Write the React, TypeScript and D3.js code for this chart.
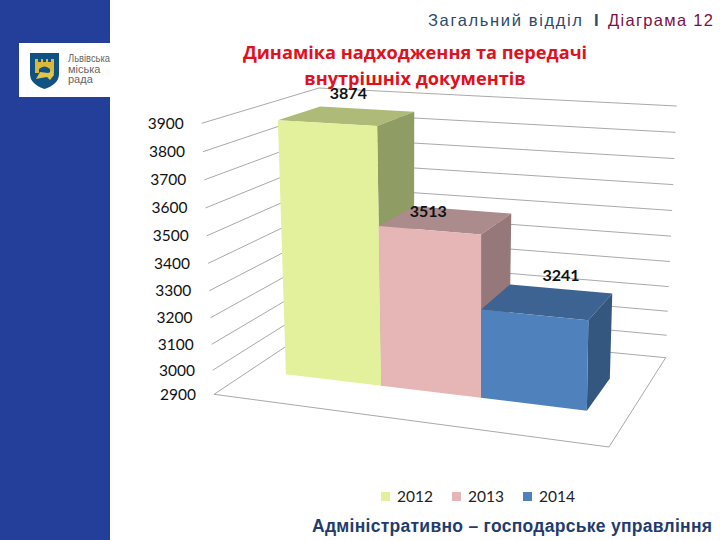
import React, { useEffect, useRef } from 'react';
import * as d3 from 'd3';

const years = ['2012', '2013', '2014'];
const docs = [3874, 3513, 3241];
const ticks = [2900, 3000, 3100, 3200, 3300, 3400, 3500, 3600, 3700, 3800, 3900];
const frontColors = ['#e3f19c', '#e6b6b6', '#4f81bd'];
const topColors = ['#aebb78', '#ab8b8b', '#3c6392'];
const sideColors = ['#8f9c64', '#96787a', '#33577f'];
const labelShift = [[1, -23], [-18, -9], [13, -27]];
const titleLines = ['Динаміка надходження та передачі', 'внутрішніх документів'];

type Pt = [number, number];

// corners of the 3d box as they land on the picture
const floorFL: Pt = [214, 394.3];
const floorFR: Pt = [609, 447];
const floorBL: Pt = [319, 324.5];
const floorBR: Pt = [665.7, 357.7];
const topFL: Pt = [199, 123.3];
const topFR: Pt = [613, 148.5];
const topBL: Pt = [319, 88];
const topBR: Pt = [676.7, 106];

const mix = (a: Pt, b: Pt, t: number): Pt => [a[0] + (b[0] - a[0]) * t, a[1] + (b[1] - a[1]) * t];

const App: React.FC = () => {
  const svgRef = useRef<SVGSVGElement | null>(null);

  useEffect(() => {
    const svg = d3.select(svgRef.current);
    svg.selectAll('*').remove();

    // value goes up the walls, a little stretched by the perspective
    const h = d3.scalePow().exponent(1.05).domain([0, 1000]).range([0, 1]);
    const height = (v: number) => h(v - 2900);
    const across = d3.scaleLinear().domain([0, 1, 2, 3]).range([0.093, 0.345, 0.609, 0.889]);
    const depthFront = 0.35;
    const depthBack = 0.72;

    const proj = (u: number, d: number, v: number): Pt => {
      const floor = mix(mix(floorFL, floorFR, u), mix(floorBL, floorBR, u), d);
      const top = mix(mix(topFL, topFR, u), mix(topBL, topBR, u), d);
      return mix(floor, top, height(v));
    };
    const line = d3.line();

    svg.append('rect').attr('width', 720).attr('height', 540).attr('fill', '#fff');

    // side panel and logo
    svg.append('rect').attr('width', 110).attr('height', 540).attr('fill', '#233f99');
    svg.append('rect').attr('x', 19).attr('y', 43).attr('width', 91).attr('height', 54).attr('fill', '#fff');
    svg.append('path')
      .attr('d', 'M30,53 H59 V74 Q59,84 44.5,89 Q30,84 30,74 Z')
      .attr('fill', '#0f5283');
    // castle with gate
    svg.append('path')
      .attr('d', 'M35,73 V59 H38 V62 H41 V59 H43 V62 H46 V59 H48 V62 H51 V59 H54 V73 H50 V69 Q44.5,64 39,69 V73 Z')
      .attr('fill', '#d8b93c');
    // lion
    svg.append('path')
      .attr('d', 'M36,79 L40,72 L48,73 L53,71 L54,75 L50,80 L47,77 L41,78 Z')
      .attr('fill', '#e0c64a');
    const logoText = svg.append('g')
      .attr('font-family', '"Liberation Sans", sans-serif')
      .attr('font-size', 11)
      .attr('fill', '#666');
    ['Львівська', 'міська', 'рада'].forEach((t, i) => {
      logoText.append('text')
        .attr('x', 68)
        .attr('y', 62 + i * 10.5)
        .attr('textLength', i === 0 ? 42 : null)
        .attr('lengthAdjust', 'spacingAndGlyphs')
        .text(t);
    });

    // header
    const header = svg.append('g')
      .attr('font-family', '"Liberation Sans", Arial, sans-serif')
      .attr('font-size', 16.5);
    header.append('text').attr('x', 428).attr('y', 26).attr('fill', '#2b4a70')
      .attr('textLength', 154).text('Загальний відділ');
    header.append('text').attr('x', 594).attr('y', 26).attr('fill', '#2b4a70').attr('font-weight', 'bold').text('I');
    header.append('text').attr('x', 608).attr('y', 26).attr('fill', '#7b0f47')
      .attr('textLength', 105).text('Діаграма 12');

    // gridlines on the two walls
    const wallTicks = ticks.map(v => {
      const front = proj(0, 0, v);
      // the left ends sit a bit to the right of the wall's front edge
      return { v, pts: [[front[0] + 2.7 * height(v), front[1]] as Pt, proj(0, 1, v), proj(1, 1, v)] };
    });
    svg.append('g').selectAll('path').data(wallTicks).enter().append('path')
      .attr('d', d => line(d.pts))
      .attr('fill', 'none')
      .attr('stroke', '#a9a9a9')
      .attr('stroke-width', 1);
    svg.append('path')
      .attr('d', line([proj(0, 0, 2900), proj(1, 0, 2900), proj(1, 1, 2900)]))
      .attr('fill', 'none')
      .attr('stroke', '#a9a9a9')
      .attr('stroke-width', 1);

    svg.append('g').selectAll('text').data(wallTicks).enter().append('text')
      .attr('x', d => d.pts[0][0] - 18)
      .attr('y', d => d.pts[0][1])
      .attr('dy', '0.35em')
      .attr('text-anchor', 'end')
      .attr('font-family', 'Lato, sans-serif')
      .attr('font-size', 15.5)
      .attr('fill', '#111')
      .text(d => d.v);

    // bars, left to right so the next one hides the side of the last
    docs.forEach((v, i) => {
      const u0 = across(i);
      const u1 = across(i + 1);
      const g = svg.append('g');
      g.append('path')
        .attr('d', line([proj(u0, depthFront, v), proj(u1, depthFront, v), proj(u1, depthBack, v), proj(u0, depthBack, v)]) + 'Z')
        .attr('fill', topColors[i]);
      g.append('path')
        .attr('d', line([proj(u1, depthFront, v), proj(u1, depthBack, v), proj(u1, depthBack, 2900), proj(u1, depthFront, 2900)]) + 'Z')
        .attr('fill', sideColors[i]);
      g.append('path')
        .attr('d', line([proj(u0, depthFront, v), proj(u1, depthFront, v), proj(u1, depthFront, 2900), proj(u0, depthFront, 2900)]) + 'Z')
        .attr('fill', frontColors[i]);
    });

    docs.forEach((v, i) => {
      const c = proj((across(i) + across(i + 1)) / 2, (depthFront + depthBack) / 2, v);
      svg.append('text')
        .attr('x', c[0] + labelShift[i][0])
        .attr('y', c[1] + labelShift[i][1])
        .attr('dy', '0.35em')
        .attr('text-anchor', 'middle')
        .attr('font-family', 'Lato, sans-serif')
        .attr('font-weight', 'bold')
        .attr('font-size', 16)
        .attr('fill', '#111')
        .text(v);
    });

    // title
    titleLines.forEach((t, i) => {
      svg.append('text')
        .attr('x', 415)
        .attr('y', 59 + i * 25.5)
        .attr('text-anchor', 'middle')
        .attr('font-family', '"Open Sans", sans-serif')
        .attr('font-weight', 'bold')
        .attr('font-size', 18.2)
        .attr('fill', '#e0101c')
        .text(t);
    });

    // legend
    const legend = d3.scaleBand().domain(years).range([381, 594]);
    years.forEach((y, i) => {
      const x = legend(y) as number;
      svg.append('rect').attr('x', x).attr('y', 492).attr('width', 9).attr('height', 9).attr('fill', frontColors[i]);
      svg.append('text')
        .attr('x', x + 16).attr('y', 502)
        .attr('font-family', 'Lato, sans-serif')
        .attr('font-size', 15.5)
        .attr('fill', '#222')
        .text(y);
    });

    // footer
    svg.append('text')
      .attr('x', 312).attr('y', 532)
      .attr('font-family', '"Liberation Sans", Arial, sans-serif')
      .attr('font-weight', 'bold')
      .attr('font-size', 17.5)
      .attr('fill', '#1f3c6e')
      .attr('textLength', 400)
      .text('Адміністративно – господарське управління');
  }, []);

  return (
    <svg
      ref={svgRef}
      width={720}
      height={540}
      style={{ position: 'absolute', left: 0, top: 0 }}
    />
  );
};

export default App;
